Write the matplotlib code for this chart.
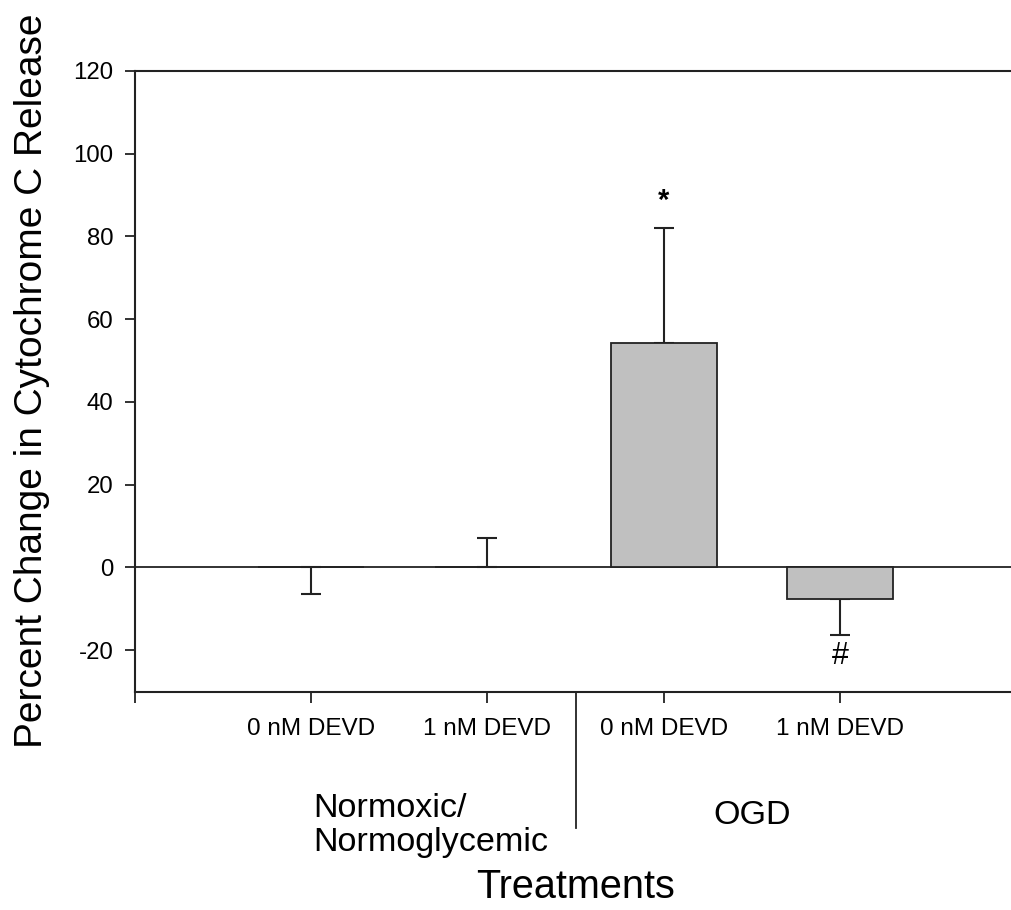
import numpy as np
import matplotlib.pyplot as plt

plt.rcParams['font.family'] = ['Liberation Sans', 'DejaVu Sans']
plt.rcParams['axes.unicode_minus'] = False

# --- data ---
tick_labels = ['', '0 nM DEVD', '1 nM DEVD', '0 nM DEVD', '1 nM DEVD']
means = [0.0, 0.0, 54.3, -7.75]
err_lo = [6.5, 0.0, 0.0, 8.7]   # error drawn below the bar
err_hi = [0.0, 7.2, 27.7, 0.0]  # error drawn above the bar
groups = ['Normoxic/\nNormoglycemic', 'OGD']
marks = ['', '', '*', '#']

x = np.arange(1, len(means) + 1)

fig = plt.figure(figsize=(10.11, 9.10), dpi=100)
ax = fig.add_axes([0.1335, 0.2401, 0.8665, 0.6819])

ax.bar(x, means, width=0.6, color='#c0c0c0', edgecolor='#222222', linewidth=1.3, zorder=3)
ax.errorbar(x, means, yerr=[err_lo, err_hi], fmt='none', ecolor='#222222',
            elinewidth=1.5, capsize=7.2, capthick=1.5, zorder=2)
ax.axhline(0, color='#222222', linewidth=1.3, zorder=1)

ax.set_xlim(0, 4.97)
ax.set_ylim(-30, 120)
ax.set_yticks(np.arange(-20, 121, 20))
ax.set_xticks(np.arange(0, len(means) + 1))
ax.set_xticklabels(tick_labels)

for s in ['left', 'bottom', 'top']:
    ax.spines[s].set_linewidth(1.5)
    ax.spines[s].set_color('#222222')
ax.spines['right'].set_visible(False)
ax.tick_params(axis='y', length=7.5, width=1.3, pad=8, labelsize=17.3, color='#222222')
ax.tick_params(axis='x', length=8, width=1.3, pad=11, labelsize=17.5, color='#222222')

# significance marks
ax.text(x[2], err_hi[2] + means[2] + 6.6, marks[2], ha='center', va='center',
        fontsize=21, fontweight='bold')
ax.text(x[3], means[3] - err_lo[3] - 5, marks[3], ha='center', va='center', fontsize=22)

trans = ax.get_xaxis_transform()
# separator between the two groups
ax.plot([2.5, 2.5], [0, -0.22], transform=trans, color='#222222', lw=1.3, clip_on=False)
ax.text(1.01, -0.216, groups[0], transform=trans, ha='left', va='center',
        fontsize=24.6, linespacing=1.1)
ax.text(3.5, -0.2, groups[1], transform=trans, ha='center', va='center', fontsize=24.6)
ax.text(2.5, -0.315, 'Treatments', transform=trans, ha='center', va='center', fontsize=28.5)

ax.set_ylabel('Percent Change in Cytochrome C Release', fontsize=28)
ax.yaxis.set_label_coords(-0.097, 0.5)

fig.savefig('out.png', dpi=100)
